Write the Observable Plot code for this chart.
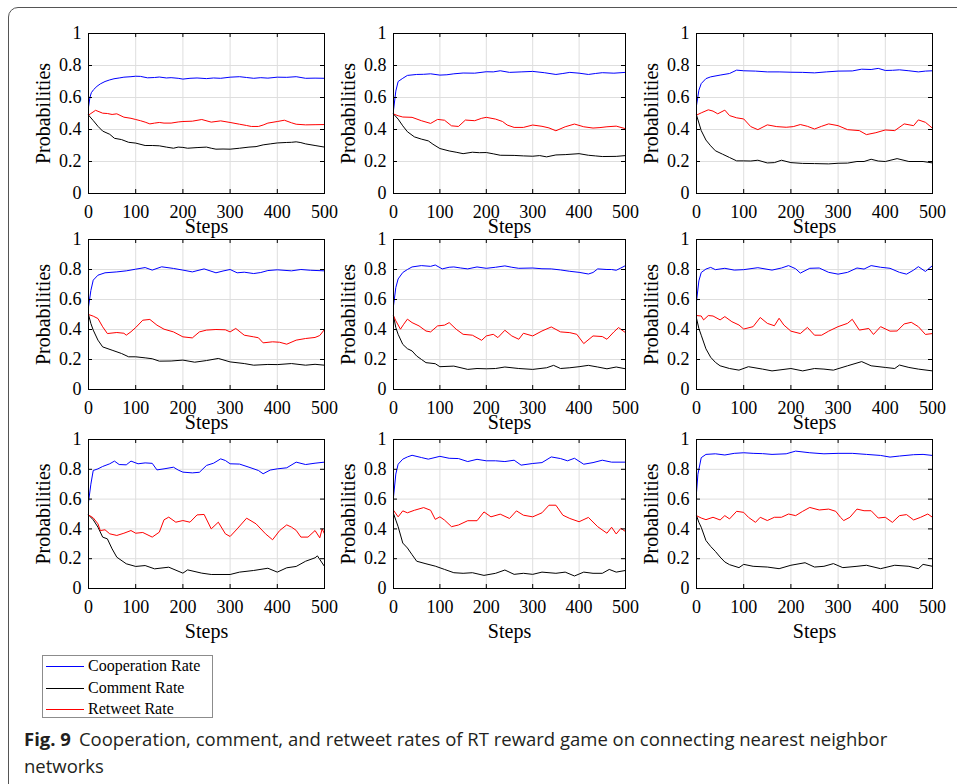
<!DOCTYPE html>
<html>
<head>
<meta charset="utf-8">
<script src="https://cdn.jsdelivr.net/npm/d3@7"></script>
<script src="https://cdn.jsdelivr.net/npm/@observablehq/plot@0.6"></script>
<style>
  html, body { margin: 0; padding: 0; background: #fff; }
  #fig { position: relative; width: 957px; height: 784px; overflow: hidden; background: #fff; }
  .border { position: absolute; left: 8px; top: 7px; width: 1000px; height: 1000px; border: 1.5px solid #555; border-top-left-radius: 10px; box-sizing: border-box; }
  .panel { position: absolute; }
  .legend { position: absolute; left: 42px; top: 655px; width: 171px; height: 63px; border: 1px solid #8c8c8c; box-sizing: border-box; background: #fff; font-family: "Liberation Serif", serif; font-size: 16px; color: #000; }
  .legend .sw { position: absolute; left: 3px; width: 38px; height: 1px; }
  .legend .lbl { position: absolute; left: 45px; height: 20px; line-height: 20px; white-space: nowrap; }
  .caption { position: absolute; left: 24px; font-family: "Open Sans", sans-serif; font-size: 18.5px; line-height: 27px; color: #231f20; white-space: nowrap; }
  .caption b { font-weight: 700; margin-right: 8px; }
</style>
</head>
<body>
<div id="fig">
  <div class="border"></div>
</div>
<script>
// ---------- data (step, value) ----------
const xTicks = [0, 100, 200, 300, 400, 500];
const yTicks = [0, 0.2, 0.4, 0.6, 0.8, 1];
const seriesNames = ["Cooperation Rate", "Comment Rate", "Retweet Rate"];
const seriesColors = ["#0000ff", "#000000", "#ff0000"];

const coop1 = [[0,.54],[3,.60],[6,.63],[11,.65],[18,.67],[25,.685],[35,.70],[45,.71],[54,.717],[65,.722],[75,.727],[90,.73],[100,.733],[110,.732],[125,.723],[140,.725],[150,.728],[165,.722],[175,.724],[190,.72],[200,.715],[215,.72],[230,.722],[250,.718],[265,.722],[280,.72],[300,.727],[320,.73],[335,.725],[350,.72],[365,.724],[380,.721],[400,.727],[420,.726],[440,.73],[460,.72],[480,.721],[500,.72]];
const comment1 = [[0,.49],[10,.456],[20,.42],[30,.39],[45,.37],[55,.345],[70,.337],[85,.32],[100,.315],[120,.30],[135,.30],[150,.298],[165,.29],[180,.283],[190,.29],[200,.288],[210,.283],[230,.287],[250,.29],[260,.283],[270,.277],[285,.278],[300,.277],[320,.283],[340,.29],[355,.293],[370,.304],[385,.31],[400,.316],[420,.319],[430,.32],[440,.323],[450,.318],[460,.31],[480,.30],[500,.29]];
const retweet1 = [[0,.49],[5,.50],[15,.52],[30,.502],[40,.50],[50,.494],[60,.498],[75,.477],[90,.47],[100,.4625],[110,.455],[120,.446],[130,.435],[140,.44],[150,.444],[160,.44],[175,.44],[190,.447],[200,.45],[220,.452],[240,.4625],[260,.446],[280,.454],[300,.444],[320,.433],[335,.425],[345,.419],[360,.419],[370,.428],[380,.44],[400,.45],[415,.458],[430,.442],[440,.433],[460,.429],[480,.43],[500,.431]];

const coop2 = [[0,.52],[5,.64],[10,.70],[20,.72],[30,.738],[50,.744],[65,.745],[80,.748],[100,.74],[115,.742],[130,.748],[150,.753],[175,.752],[200,.761],[215,.76],[230,.767],[250,.757],[275,.76],[300,.763],[325,.755],[350,.744],[365,.75],[380,.757],[400,.752],[420,.744],[435,.75],[450,.755],[475,.752],[500,.757]];
const comment2 = [[0,.497],[10,.465],[20,.423],[30,.386],[45,.354],[60,.34],[75,.329],[85,.308],[100,.281],[120,.266],[135,.258],[150,.249],[170,.258],[185,.255],[200,.256],[215,.248],[230,.239],[260,.238],[280,.235],[300,.233],[315,.237],[330,.229],[350,.241],[370,.243],[400,.249],[420,.239],[435,.235],[450,.231],[480,.232],[500,.237]];
const retweet2 = [[0,.497],[10,.486],[20,.478],[40,.476],[60,.455],[80,.438],[95,.463],[110,.458],[125,.423],[140,.419],[155,.459],[175,.455],[190,.47],[200,.476],[220,.465],[235,.45],[245,.428],[260,.413],[280,.413],[300,.428],[320,.42],[335,.41],[350,.392],[370,.417],[390,.434],[410,.417],[430,.409],[445,.412],[460,.417],[480,.421],[500,.405]];

const coop3 = [[0,.55],[5,.645],[10,.687],[20,.718],[30,.729],[50,.74],[70,.75],[85,.771],[100,.767],[125,.765],[150,.76],[175,.76],[200,.758],[225,.757],[250,.754],[275,.76],[300,.765],[330,.766],[350,.777],[370,.775],[385,.782],[400,.769],[415,.77],[430,.773],[450,.767],[470,.76],[485,.765],[500,.767]];
const comment3 = [[0,.49],[10,.393],[20,.334],[30,.298],[40,.267],[55,.246],[70,.225],[85,.204],[100,.204],[115,.203],[130,.208],[150,.191],[165,.193],[180,.208],[200,.193],[225,.188],[250,.187],[280,.185],[300,.189],[320,.19],[340,.2],[355,.2],[370,.214],[385,.203],[400,.2],[425,.218],[450,.2],[480,.2],[500,.191]];
const retweet3 = [[0,.49],[10,.504],[25,.523],[35,.515],[45,.498],[60,.521],[70,.487],[85,.473],[100,.466],[115,.418],[130,.399],[150,.429],[170,.418],[190,.414],[205,.418],[220,.431],[235,.42],[250,.403],[265,.42],[280,.435],[300,.424],[320,.399],[345,.393],[360,.368],[380,.38],[400,.397],[420,.393],[440,.435],[460,.424],[470,.46],[485,.445],[500,.408]];

const coop4 = [[0,.55],[5,.66],[10,.729],[20,.762],[35,.778],[60,.784],[80,.791],[100,.802],[120,.813],[135,.796],[155,.818],[180,.807],[200,.796],[220,.784],[245,.804],[270,.778],[285,.79],[300,.80],[315,.778],[330,.782],[350,.773],[365,.78],[380,.793],[400,.798],[430,.791],[450,.80],[470,.795],[500,.791]];
const comment4 = [[0,.50],[5,.44],[10,.396],[20,.329],[30,.284],[50,.262],[70,.24],[85,.218],[100,.218],[120,.211],[135,.205],[150,.189],[175,.19],[200,.196],[225,.182],[250,.193],[275,.207],[300,.184],[330,.173],[350,.162],[380,.167],[400,.166],[430,.173],[460,.162],[480,.168],[500,.162]];
const retweet4 = [[0,.50],[10,.489],[20,.473],[30,.418],[40,.373],[60,.38],[75,.375],[80,.362],[90,.385],[100,.413],[115,.462],[130,.467],[145,.429],[160,.402],[180,.384],[200,.351],[220,.344],[235,.384],[250,.396],[270,.40],[290,.398],[300,.384],[312,.407],[330,.362],[350,.351],[360,.345],[370,.311],[390,.318],[405,.315],[420,.302],[440,.329],[460,.34],[480,.347],[490,.36],[500,.40]];

const coop5 = [[0,.558],[5,.68],[10,.737],[20,.78],[30,.80],[40,.817],[60,.826],[80,.821],[90,.83],[105,.804],[120,.815],[130,.817],[145,.81],[160,.804],[180,.817],[200,.808],[220,.815],[240,.824],[255,.815],[270,.808],[300,.81],[320,.805],[340,.804],[360,.797],[380,.788],[400,.781],[420,.77],[430,.78],[440,.804],[460,.80],[470,.80],[480,.795],[490,.81],[500,.826]];
const comment5 = [[0,.491],[5,.413],[10,.368],[20,.301],[30,.272],[40,.257],[50,.223],[60,.201],[70,.179],[90,.172],[100,.152],[130,.156],[160,.134],[180,.14],[200,.138],[220,.14],[240,.15],[270,.14],[300,.134],[330,.145],[345,.161],[360,.14],[380,.145],[400,.152],[420,.161],[440,.15],[460,.138],[480,.15],[500,.138]];
const retweet5 = [[0,.491],[5,.458],[15,.402],[22,.435],[30,.469],[40,.446],[55,.424],[70,.39],[80,.384],[95,.424],[110,.429],[120,.446],[135,.402],[150,.368],[170,.362],[190,.328],[200,.357],[215,.368],[225,.346],[240,.395],[255,.357],[270,.335],[280,.375],[300,.357],[320,.39],[340,.417],[360,.384],[380,.379],[395,.368],[410,.306],[430,.357],[450,.353],[460,.335],[475,.384],[485,.413],[500,.379]];

const coop6 = [[0,.588],[5,.724],[10,.78],[20,.803],[30,.814],[40,.799],[60,.808],[80,.796],[100,.799],[130,.812],[160,.796],[180,.81],[195,.826],[210,.805],[220,.776],[240,.808],[260,.81],[280,.781],[300,.769],[320,.781],[340,.81],[355,.803],[370,.826],[390,.815],[410,.808],[430,.781],[445,.769],[460,.796],[470,.819],[485,.787],[500,.826]];
const comment6 = [[0,.475],[5,.407],[10,.362],[20,.271],[30,.215],[40,.181],[50,.158],[70,.14],[90,.129],[110,.152],[140,.136],[160,.124],[200,.14],[225,.124],[250,.14],[270,.136],[290,.129],[320,.158],[350,.186],[370,.158],[400,.147],[420,.14],[430,.163],[450,.147],[470,.136],[500,.124]];
const retweet6 = [[0,.493],[10,.49],[15,.464],[25,.493],[35,.49],[50,.464],[60,.486],[75,.452],[90,.43],[100,.403],[120,.419],[135,.48],[150,.441],[165,.425],[175,.475],[185,.43],[200,.389],[220,.373],[235,.414],[250,.362],[265,.362],[280,.389],[300,.419],[320,.441],[330,.468],[345,.396],[365,.407],[375,.367],[390,.419],[410,.389],[425,.39],[440,.437],[455,.448],[470,.419],[485,.367],[500,.373]];

const coop7 = [[0,.58],[5,.70],[10,.792],[20,.803],[30,.819],[45,.837],[55,.855],[65,.832],[80,.83],[90,.855],[105,.837],[120,.843],[135,.84],[145,.796],[160,.803],[180,.814],[190,.795],[200,.781],[220,.776],[235,.78],[250,.826],[265,.841],[280,.87],[290,.859],[300,.837],[320,.835],[340,.814],[360,.792],[370,.77],[385,.795],[400,.803],[420,.81],[440,.848],[460,.832],[480,.841],[500,.848]];
const comment7 = [[0,.494],[10,.461],[20,.412],[30,.345],[40,.333],[50,.266],[60,.21],[80,.166],[100,.148],[120,.154],[140,.132],[170,.143],[200,.103],[210,.125],[240,.103],[260,.094],[300,.094],[320,.11],[350,.121],[380,.136],[400,.11],[420,.139],[440,.148],[460,.183],[480,.206],[485,.219],[500,.148]];
const retweet7 = [[0,.494],[10,.474],[20,.434],[25,.389],[35,.394],[45,.367],[60,.356],[75,.371],[90,.389],[100,.371],[115,.376],[135,.345],[150,.378],[160,.461],[170,.479],[185,.445],[200,.456],[215,.445],[230,.494],[245,.497],[260,.40],[275,.445],[290,.367],[300,.349],[315,.40],[335,.472],[355,.434],[375,.367],[390,.327],[405,.389],[420,.427],[430,.412],[440,.39],[450,.345],[465,.345],[480,.389],[490,.34],[495,.40],[500,.367]];

const coop8 = [[0,.614],[5,.768],[10,.834],[20,.868],[30,.883],[40,.894],[60,.879],[75,.868],[100,.887],[120,.874],[140,.872],[160,.852],[180,.867],[200,.857],[220,.857],[240,.852],[260,.861],[275,.828],[300,.839],[320,.845],[340,.883],[360,.872],[375,.857],[390,.874],[410,.834],[430,.845],[450,.861],[470,.848],[500,.848]];
const comment8 = [[0,.503],[5,.459],[10,.415],[20,.305],[30,.272],[40,.227],[50,.183],[70,.166],[90,.15],[110,.128],[130,.106],[150,.102],[170,.106],[195,.088],[220,.102],[240,.124],[260,.095],[280,.102],[300,.095],[320,.11],[350,.102],[370,.11],[390,.084],[410,.11],[430,.102],[450,.102],[465,.128],[480,.11],[500,.121]];
const retweet8 = [[0,.525],[10,.481],[20,.521],[30,.508],[45,.525],[65,.543],[80,.525],[90,.464],[100,.481],[110,.459],[125,.415],[140,.426],[160,.455],[180,.455],[195,.514],[210,.481],[230,.499],[250,.47],[265,.521],[280,.492],[300,.481],[320,.508],[335,.559],[350,.559],[365,.492],[380,.47],[400,.448],[420,.477],[440,.415],[460,.371],[470,.411],[480,.366],[490,.404],[500,.382]];

const coop9 = [[0,.644],[3,.767],[10,.878],[20,.90],[40,.904],[60,.896],[80,.907],[100,.911],[120,.907],[140,.905],[160,.90],[190,.904],[210,.922],[240,.911],[270,.904],[300,.907],[330,.907],[360,.90],[390,.893],[410,.882],[430,.889],[460,.898],[480,.90],[500,.893]];
const comment9 = [[0,.489],[5,.444],[10,.411],[20,.322],[30,.282],[40,.249],[50,.211],[60,.178],[70,.16],[90,.14],[100,.162],[120,.149],[150,.144],[175,.133],[200,.156],[230,.173],[250,.144],[270,.149],[290,.167],[310,.14],[340,.149],[360,.156],[390,.133],[420,.156],[450,.149],[470,.133],[480,.162],[500,.149]];
const retweet9 = [[0,.489],[10,.473],[20,.462],[35,.478],[50,.46],[60,.489],[70,.467],[85,.518],[100,.511],[110,.478],[125,.444],[135,.478],[150,.456],[165,.478],[180,.478],[195,.50],[210,.489],[225,.518],[240,.544],[260,.527],[280,.533],[295,.518],[305,.478],[312,.456],[325,.478],[340,.533],[355,.522],[370,.522],[385,.473],[400,.478],[415,.444],[430,.489],[445,.496],[460,.46],[475,.478],[490,.50],[500,.478]];

const panels = [
  [coop1, comment1, retweet1], [coop2, comment2, retweet2], [coop3, comment3, retweet3],
  [coop4, comment4, retweet4], [coop5, comment5, retweet5], [coop6, comment6, retweet6],
  [coop7, comment7, retweet7], [coop8, comment8, retweet8], [coop9, comment9, retweet9]
];
const captionLabel = "Fig. 9";
const captionLines = ["Cooperation, comment, and retweet rates of RT reward game on connecting nearest neighbor", "networks"];

// ---------- layout ----------
const colLeft = [88, 393, 696], colRight = [324, 625, 932];
const rowTop = [33, 239, 439], rowBottom = [193, 389, 588];
const serif = "Liberation Serif, Times New Roman, serif";
const fig = document.getElementById("fig");

panels.forEach((series, i) => {
  const r = Math.floor(i / 3), c = i % 3;
  const w = colRight[c] - colLeft[c], h = rowBottom[r] - rowTop[r];
  const ml = 62, mr = 14, mt = 8, mb = r === 2 ? 62 : 50;
  const stepsDy = r === 2 ? 42.6 : 33;
  const lines = series.map((arr, k) =>
    Plot.line(arr.map(([step, value]) => ({step, value})), {
      x: "step", y: "value", stroke: seriesColors[k], strokeWidth: 1
    })
  );
  const svg = Plot.plot({
    width: ml + w + mr, height: mt + h + mb,
    marginLeft: ml, marginRight: mr, marginTop: mt, marginBottom: mb,
    style: {background: "transparent", overflow: "visible", fontFamily: serif, color: "#000"},
    x: {domain: [0, 500], axis: null},
    y: {domain: [0, 1], axis: null},
    marks: [
      Plot.gridX(xTicks, {stroke: "#dedede", strokeOpacity: 1}),
      Plot.gridY(yTicks, {stroke: "#dedede", strokeOpacity: 1}),
      ...lines,
      Plot.frame({stroke: "#000", strokeWidth: 1}),
      Plot.tickX(xTicks, {x: d => d, insetTop: h - 4, stroke: "#000"}),
      Plot.tickX(xTicks, {x: d => d, insetBottom: h - 4, stroke: "#000"}),
      Plot.tickY(yTicks, {y: d => d, insetRight: w - 4, stroke: "#000"}),
      Plot.tickY(yTicks, {y: d => d, insetLeft: w - 4, stroke: "#000"}),
      Plot.axisX(xTicks, {anchor: "bottom", tickSize: 0, tickPadding: 12, tickFormat: d => String(d), fontSize: 18, fontFamily: serif, label: null}),
      Plot.axisY(yTicks, {anchor: "left", tickSize: 0, tickPadding: 7, tickFormat: d => String(d), fontSize: 18, fontFamily: serif, label: null}),
      Plot.text(["Steps"], {text: d => d, frameAnchor: "bottom", textAnchor: "middle", lineAnchor: "middle", dy: stepsDy, fontSize: 20, fontFamily: serif}),
      Plot.text(["Probabilities"], {text: d => d, frameAnchor: "left", textAnchor: "middle", lineAnchor: "middle", rotate: -90, dx: -45, fontSize: 20, fontFamily: serif})
    ]
  });
  const holder = document.createElement("div");
  holder.className = "panel";
  holder.style.left = (colLeft[c] - ml) + "px";
  holder.style.top = (rowTop[r] - mt) + "px";
  holder.appendChild(svg);
  fig.appendChild(holder);
});

// ---------- legend ----------
const legend = document.createElement("div");
legend.className = "legend";
const rowCenters = [10, 32, 53];
seriesNames.forEach((name, k) => {
  const sw = document.createElement("div");
  sw.className = "sw";
  sw.style.top = rowCenters[k] + "px";
  sw.style.background = seriesColors[k];
  legend.appendChild(sw);
  const lbl = document.createElement("div");
  lbl.className = "lbl";
  lbl.style.top = (rowCenters[k] - 10) + "px";
  lbl.textContent = name;
  legend.appendChild(lbl);
});
fig.appendChild(legend);

// ---------- caption ----------
captionLines.forEach((t, k) => {
  const line = document.createElement("div");
  line.className = "caption";
  line.style.top = (725 + 27 * k) + "px";
  if (k === 0) {
    const b = document.createElement("b");
    b.textContent = captionLabel;
    line.appendChild(b);
  }
  const span = document.createElement("span");
  span.textContent = t;
  line.appendChild(span);
  fig.appendChild(line);
});
</script>
</body>
</html>
